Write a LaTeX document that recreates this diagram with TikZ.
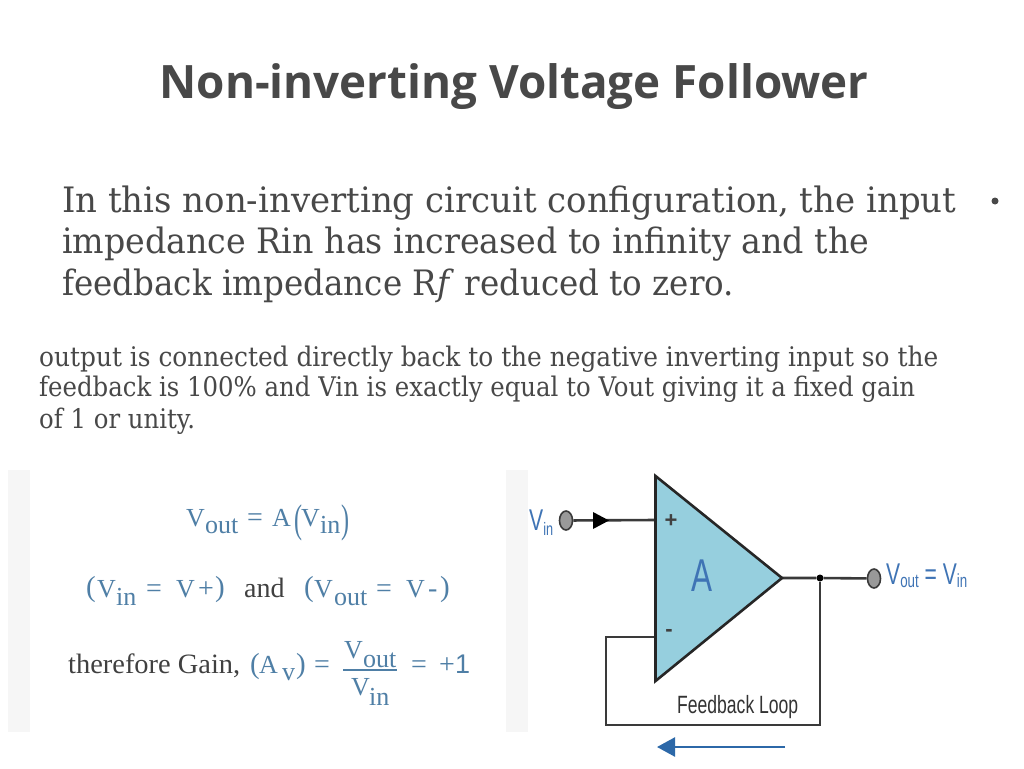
\documentclass[tikz,border=0pt]{standalone}
\usepackage{fontspec}
\usepackage{graphicx}
\setmainfont{Liberation Serif}
\setsansfont{Liberation Sans}
\newfontfamily\titlefont{Open Sans}
\newfontfamily\bodyfont{DejaVu Serif}
\definecolor{inkgrey}{HTML}{484848}
\definecolor{eqblue}{HTML}{4F7FA6}
\definecolor{eqdark}{HTML}{404040}
\definecolor{ampfill}{HTML}{96CFDE}
\definecolor{wirecol}{HTML}{3A3A3A}
\definecolor{labblue}{HTML}{3F74B5}
\definecolor{arrowblue}{HTML}{2C68A8}
\definecolor{stripgrey}{HTML}{F6F6F6}
\newcommand{\fit}[2]{\resizebox{#1pt}{\height}{#2}}
\tikzset{
  bodyline/.style={anchor=base west,inner sep=0pt,text=inkgrey,font=\bodyfont\fontsize{35}{35}\selectfont},
  smallline/.style={anchor=base west,inner sep=0pt,text=inkgrey,font=\bodyfont\fontsize{27}{27}\selectfont},
  eq/.style={anchor=base west,inner sep=0pt,text=eqblue,font=\fontsize{26}{26}\selectfont},
  eqsign/.style={eq,font=\fontsize{28}{28}\selectfont},
  eqpar/.style={eq,font=\fontsize{29}{29}\selectfont},
  eqbig/.style={eq,font=\fontsize{40}{40}\selectfont},
  eqtxt/.style={anchor=base west,inner sep=0pt,text=eqdark,font=\fontsize{28}{28}\selectfont},
  wire/.style={draw=wirecol,line width=1.8pt},
  thickwire/.style={draw=wirecol,line width=2.6pt},
  terminal/.style={draw=wirecol,fill=gray!80,line width=1.6pt,ellipse,minimum width=13pt,minimum height=19pt,inner sep=0pt},
  lab/.style={anchor=base west,inner sep=0pt,text=labblue,font=\sffamily\fontsize{30}{30}\selectfont},
  amp/.style={draw=black!85,fill=ampfill,line width=2.6pt,line join=miter},
  polar/.style={anchor=center,inner sep=0pt,text=eqdark,font=\sffamily\bfseries\fontsize{22}{22}\selectfont}
}
\usetikzlibrary{shapes.geometric,arrows.meta}
\begin{document}
\begin{tikzpicture}[x=1pt,y=-1pt]
\useasboundingbox (0,0) rectangle (1024,768);
\fill[white] (0,0) rectangle (1024,768);
% title
\node[anchor=base,inner sep=0pt,text=inkgrey,font=\titlefont\bfseries\fontsize{46}{46}\selectfont] (title) at (514,98) {\fit{709}{Non-inverting Voltage Follower}};
% body
\node[bodyline] (b1) at (62,212) {\fit{894}{In this non-inverting circuit configuration, the input}};
\node[bodyline] (b2) at (62,253) {\fit{807}{impedance Rin has increased to infinity and the}};
\node[bodyline] (b3) at (62,295) {\fit{672}{feedback impedance R\textit{f} reduced to zero.}};
\fill[inkgrey] (995,201) circle [radius=3.5pt];
\node[smallline] (s1) at (39,366) {\fit{899}{output is connected directly back to the negative inverting input so the}};
\node[smallline] (s2) at (39,396) {\fit{876}{feedback is 100\% and Vin is exactly equal to Vout giving it a fixed gain}};
\node[smallline] (s3) at (39,428) {\fit{156}{of 1 or unity.}};
% image strips
\fill[stripgrey] (8,470) rectangle (29.5,732);
\fill[stripgrey] (506,470) rectangle (528,732);
% equation 1
\node[eq] (e1a) at (186,526) {V};
\node[eq] (e1as) at (205,533) {out};
\node[eqsign] (e1b) at (247,526) {=};
\node[eq] (e1c) at (272,526) {A};
\node[eqbig] (e1d) at (294,532) {\fit{8}{(}};
\node[eq] (e1e) at (301,526) {V};
\node[eq] (e1es) at (320,533) {in};
\node[eqbig] (e1f) at (341,532) {\fit{8}{)}};
% equation 2
\node[eqpar] (e2a) at (86,596) {(};
\node[eq] (e2b) at (97,597) {V};
\node[eq] (e2bs) at (116,605) {in};
\node[eqsign] (e2c) at (146,597) {=};
\node[eq] (e2d) at (176,597) {V};
\node[eqsign] (e2e) at (198,597) {+};
\node[eqpar] (e2f) at (215,596) {)};
\node[eqtxt] (e2g) at (244,597) {and};
\node[eqpar] (e2h) at (304,596) {(};
\node[eq] (e2i) at (314,597) {V};
\node[eq] (e2is) at (334,605) {out};
\node[eqsign] (e2j) at (376,597) {=};
\node[eq] (e2k) at (406,597) {V};
\node[eqsign] (e2l) at (428,597) {-};
\node[eqpar] (e2m) at (440,596) {)};
% equation 3
\node[eqtxt] (e3a) at (68,673) {\fit{172}{therefore Gain,}};
\node[eqpar] (e3b) at (250,673) {(};
\node[eq] (e3c) at (259,673) {A};
\node[eq] (e3cs) at (282,680) {\fit{13}{v}};
\node[eqpar] (e3d) at (296,673) {)};
\node[eqsign] (e3e) at (314,673) {=};
\node[eq] (e3f) at (344,658) {V};
\node[eq] (e3fs) at (363,667) {out};
\coordinate (fracl) at (343,670);
\coordinate (fracr) at (397,670);
\draw[eqblue,line width=1.2pt] (fracl) -- (fracr);
\node[eq] (e3g) at (351,695) {V};
\node[eq] (e3gs) at (369,705) {in};
\node[eqsign] (e3h) at (411,673) {=};
\node[eqsign] (e3i) at (439,673) {+};
\node[eq,font=\sffamily\fontsize{27}{27}\selectfont] (e3j) at (455,673) {1};
% op amp
\coordinate (tl) at (655.5,476);
\coordinate (bl) at (655.5,681);
\coordinate (apex) at (782,578);
\coordinate (plus) at (655.5,520);
\coordinate (minus) at (655.5,637);
\coordinate (fbl) at (606,725);
\coordinate (fbr) at (820,725);
\coordinate (fbt) at (606,637);
\node[terminal] (vinT) at (566,520.5) {};
\node[terminal] (voutT) at (874,578.5) {};
\node[circle,fill=black,minimum size=7pt,inner sep=0pt] (junction) at (820,578) {};
\draw[thickwire] (vinT) -- (plus);
\draw[wire,line join=miter] (minus) -- (fbt) -- (fbl) -- (fbr) -- (junction);
\draw[thickwire] (apex) -- (junction) -- (voutT);
\draw[amp] (tl) -- (apex) -- (bl) -- cycle;
\fill[black] (593,512) -- (609,520.5) -- (593,529) -- cycle;
\node[polar] (plusL) at (671,521) {+};
\node[polar] (minusL) at (669,633) {-};
\node[anchor=center,inner sep=0pt,text=labblue,font=\sffamily\fontsize{46}{46}\selectfont] (aL) at (702,576) {\fit{21}{A}};
\node[lab] (vinL) at (529,530) {\fit{24}{V\raisebox{-5pt}{\fontsize{18}{18}\selectfont in}}};
\node[lab] (voutL) at (886,584) {\fit{81}{V\raisebox{-3pt}{\fontsize{19}{19}\selectfont out}\ = V\raisebox{-3pt}{\fontsize{19}{19}\selectfont in}}};
\node[anchor=base west,inner sep=0pt,text=black!80,font=\sffamily\fontsize{25}{25}\selectfont] (fbL) at (677,713) {\fit{121}{Feedback Loop}};
\coordinate (ba) at (785,747);
\coordinate (bb) at (657,747);
\draw[arrowblue,line width=2.4pt,-{Triangle[length=18pt,width=19pt]}] (ba) -- (bb);
\end{tikzpicture}
\end{document}
